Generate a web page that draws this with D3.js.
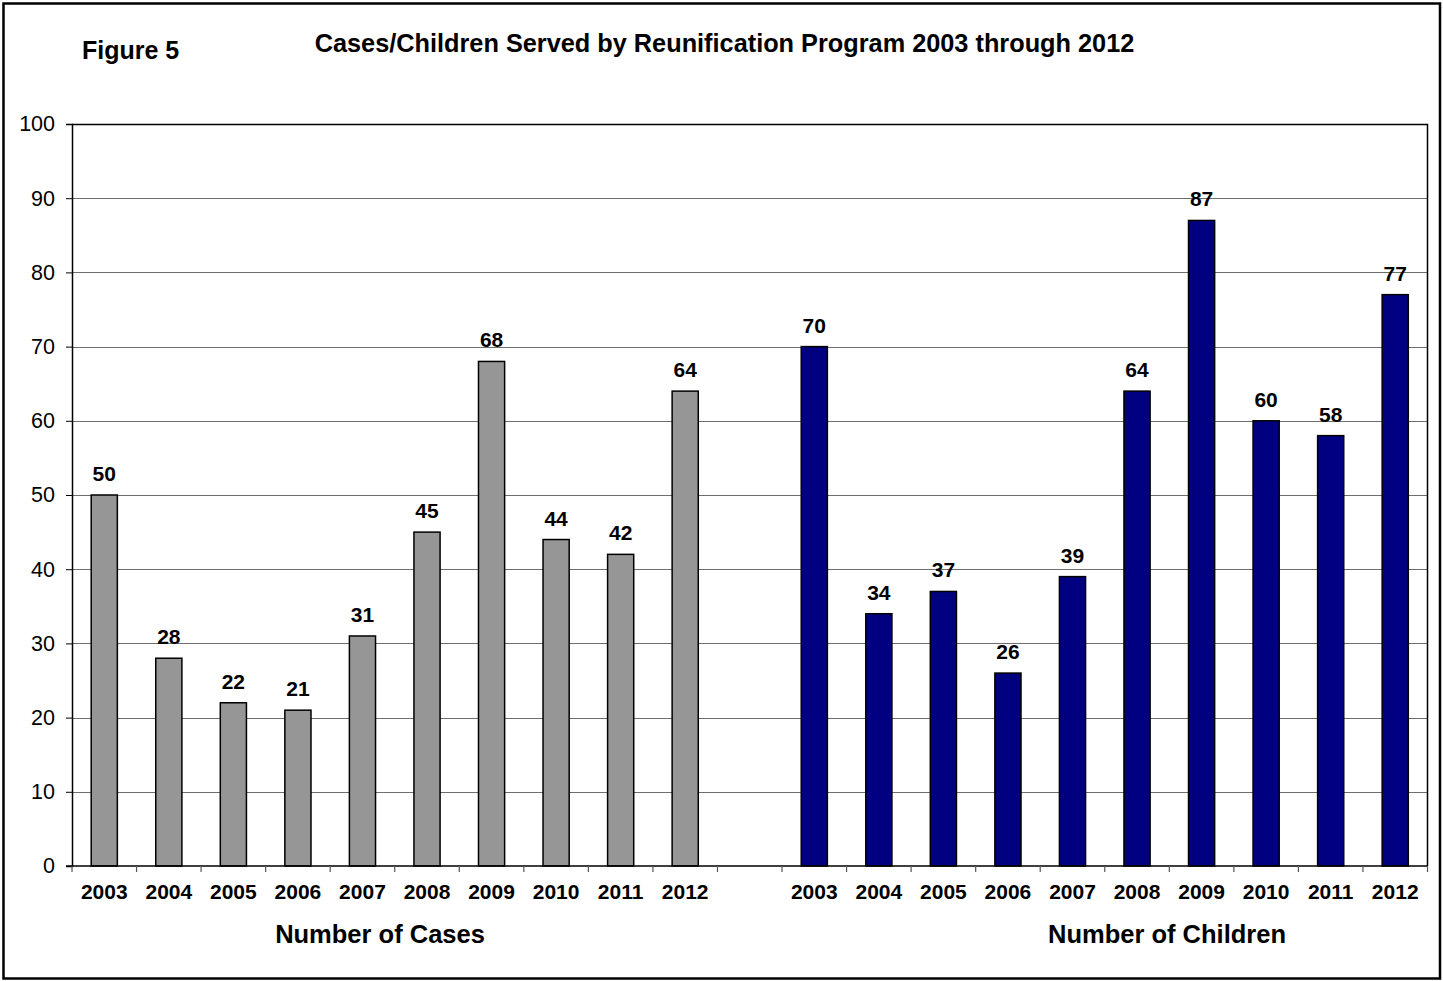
<!DOCTYPE html>
<html><head><meta charset="utf-8">
<script src="https://cdn.jsdelivr.net/npm/d3@7"></script>
<style>body{margin:0;background:#fff}svg{display:block;font-family:"Liberation Sans",Arial,sans-serif}</style>
</head><body><svg id="c" width="1443" height="981"></svg>
<script>
const years = ["2003","2004","2005","2006","2007","2008","2009","2010","2011","2012"];
const casesValues = [50,28,22,21,31,45,68,44,42,64];
const childrenValues = [70,34,37,26,39,64,87,60,58,77];
const yTicks = [0,10,20,30,40,50,60,70,80,90,100];
const groupLabels = ["Number of Cases","Number of Children"];

const svg = d3.select("#c");
const L=72, R=1427.5, T=124, B=866;
const slots = [];
years.forEach((y,i)=>slots.push({key:"c"+i,label:y,value:casesValues[i],color:"#969696"}));
slots.push({key:"gap",label:"",value:null});
years.forEach((y,i)=>slots.push({key:"k"+i,label:y,value:childrenValues[i],color:"#000080"}));

const x = d3.scaleBand().domain(slots.map(d=>d.key)).range([L,R]).paddingInner(0).paddingOuter(0);
const y = d3.scaleLinear().domain([0,100]).range([B,T]);

svg.append("rect").attr("x",3.5).attr("y",3.5).attr("width",1436.5).attr("height",975)
  .attr("fill","#fff").attr("stroke","#000").attr("stroke-width",2.5);

// gridlines
svg.append("g").selectAll("line").data(yTicks.filter(t=>t>0)).join("line")
  .attr("x1",L).attr("x2",R).attr("y1",d=>Math.round(y(d))+0.5).attr("y2",d=>Math.round(y(d))+0.5)
  .attr("stroke","#6e6e6e").attr("stroke-width",1);

// plot border top/right
svg.append("path").attr("d",`M${L},${T+0.5}H${R}V${B}`).attr("fill","none").attr("stroke","#000").attr("stroke-width",1.5);

const bw = x.bandwidth()*0.405;
svg.append("g").selectAll("rect").data(slots.filter(d=>d.value!=null)).join("rect")
  .attr("x",d=>x(d.key)+x.bandwidth()/2-bw/2).attr("width",bw)
  .attr("y",d=>y(d.value)).attr("height",d=>B-y(d.value))
  .attr("fill",d=>d.color).attr("stroke","#000").attr("stroke-width",1.5);

svg.append("g").selectAll("text").data(slots.filter(d=>d.value!=null)).join("text")
  .attr("x",d=>x(d.key)+x.bandwidth()/2).attr("y",d=>y(d.value)-14)
  .attr("text-anchor","middle").attr("font-weight","bold").attr("font-size",21).text(d=>d.value);

// y axis
const yAxis = d3.axisLeft(y).tickValues(yTicks).tickSize(6).tickPadding(11);
const gy = svg.append("g").attr("transform",`translate(${L},0)`).call(yAxis);
gy.select(".domain").attr("stroke","#000").attr("stroke-width",1.5);
gy.selectAll(".tick line").attr("stroke","#000");
gy.selectAll("text").attr("font-size",21.5).attr("fill","#000").style("font-family","Liberation Sans, Arial");

// x axis
svg.append("line").attr("x1",L-6).attr("x2",R).attr("y1",B).attr("y2",B).attr("stroke","#000").attr("stroke-width",1.5);
const bounds = slots.map(d=>x(d.key)).concat([R]);
svg.append("g").selectAll("line").data(bounds).join("line")
  .attr("x1",d=>d).attr("x2",d=>d).attr("y1",B).attr("y2",B+6).attr("stroke","#555").attr("stroke-width",1.2);
svg.append("g").selectAll("text").data(slots).join("text")
  .attr("x",d=>x(d.key)+x.bandwidth()/2).attr("y",899).attr("text-anchor","middle")
  .attr("font-weight","bold").attr("font-size",21).text(d=>d.label);

svg.append("text").attr("x",380).attr("y",943).attr("text-anchor","middle").attr("font-weight","bold").attr("font-size",25.5).text(groupLabels[0]);
svg.append("text").attr("x",1167).attr("y",943).attr("text-anchor","middle").attr("font-weight","bold").attr("font-size",25.5).text(groupLabels[1]);

svg.append("text").attr("x",82).attr("y",59).attr("font-weight","bold").attr("font-size",25).text("Figure 5");
svg.append("text").attr("x",724.5).attr("y",52).attr("text-anchor","middle").attr("font-weight","bold").attr("font-size",25.3).text("Cases/Children Served by Reunification Program 2003 through 2012");
</script></body></html>
